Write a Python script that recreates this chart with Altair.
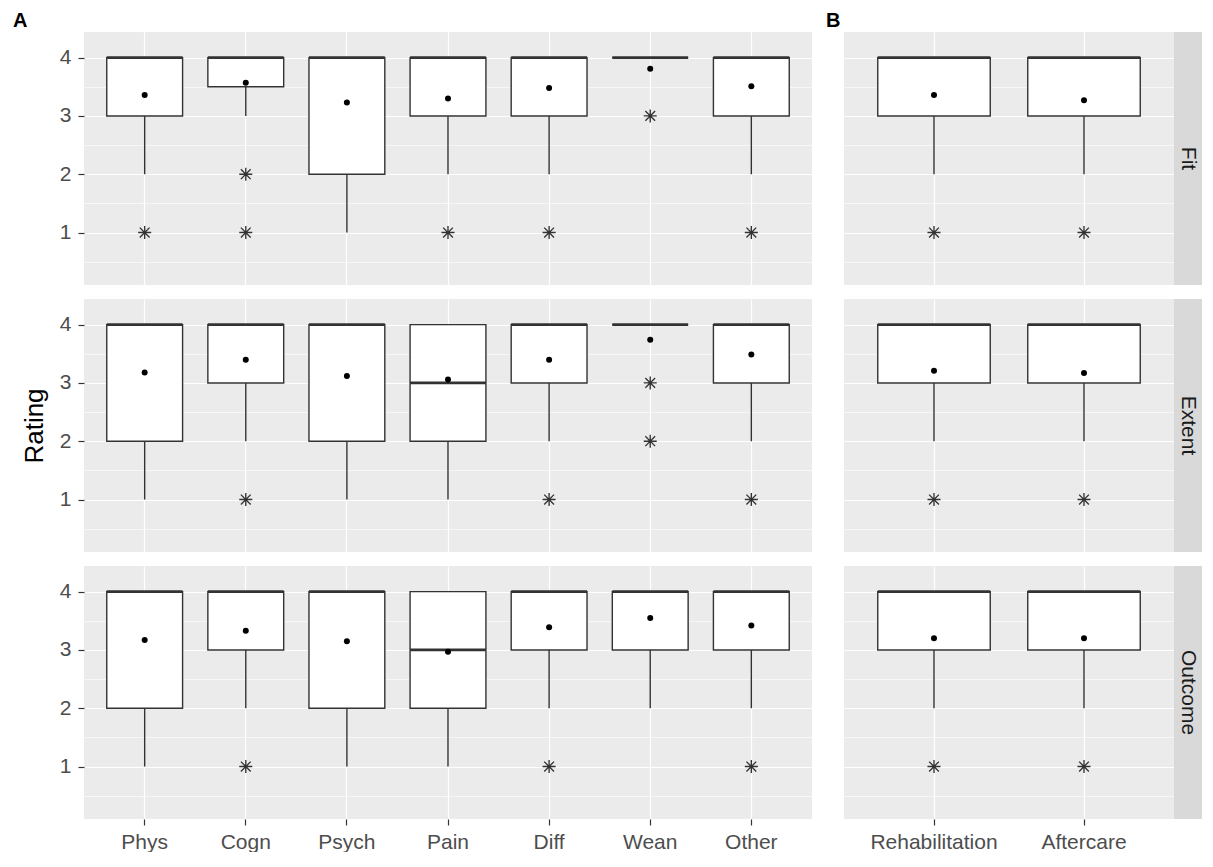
import altair as alt
import pandas as pd

FONT = "Liberation Sans"

facets = ["Fit", "Extent", "Outcome"]
cats_a = ["Phys", "Cogn", "Psych", "Pain", "Diff", "Wean", "Other"]
cats_b = ["Rehabilitation", "Aftercare"]
panel_letters = {"A": "A", "B": "B"}

# Panel A statistics (order of cats_a)
a_q1 = {"Fit": [3, 3.5, 2, 3, 3, 4, 3],
        "Extent": [2, 3, 2, 2, 3, 4, 3],
        "Outcome": [2, 3, 2, 2, 3, 3, 3]}
a_med = {"Fit": [4, 4, 4, 4, 4, 4, 4],
         "Extent": [4, 4, 4, 3, 4, 4, 4],
         "Outcome": [4, 4, 4, 3, 4, 4, 4]}
a_q3 = {"Fit": [4, 4, 4, 4, 4, 4, 4],
        "Extent": [4, 4, 4, 4, 4, 4, 4],
        "Outcome": [4, 4, 4, 4, 4, 4, 4]}
a_lo = {"Fit": [2, 3, 1, 2, 2, 4, 2],
        "Extent": [1, 2, 1, 1, 2, 4, 2],
        "Outcome": [1, 2, 1, 1, 2, 2, 2]}
a_mean = {"Fit": [3.36, 3.57, 3.23, 3.30, 3.48, 3.81, 3.51],
          "Extent": [3.18, 3.40, 3.12, 3.06, 3.40, 3.74, 3.49],
          "Outcome": [3.17, 3.33, 3.15, 2.97, 3.39, 3.55, 3.42]}
a_out = {"Fit": [[1], [2, 1], [], [1], [1], [3], [1]],
         "Extent": [[], [1], [], [], [1], [3, 2], [1]],
         "Outcome": [[], [1], [], [], [1], [], [1]]}

# Panel B statistics (order of cats_b)
b_q1 = {"Fit": [3, 3], "Extent": [3, 3], "Outcome": [3, 3]}
b_med = {"Fit": [4, 4], "Extent": [4, 4], "Outcome": [4, 4]}
b_q3 = {"Fit": [4, 4], "Extent": [4, 4], "Outcome": [4, 4]}
b_lo = {"Fit": [2, 2], "Extent": [2, 2], "Outcome": [2, 2]}
b_mean = {"Fit": [3.36, 3.27], "Extent": [3.21, 3.17], "Outcome": [3.20, 3.20]}
b_out = {"Fit": [[1], [1]], "Extent": [[1], [1]], "Outcome": [[1], [1]]}

y_ticks = [0.5, 1, 1.5, 2, 2.5, 3, 3.5, 4]

W_A, W_B, H, STRIP = 728, 330, 253, 28
STAR = "M-1,0L1,0M0,-1L0,1M-0.75,-0.75L0.75,0.75M-0.75,0.75L0.75,-0.75"
MINOR = "datum.value % 1 !== 0"
INK = "#333333"

yscale = alt.Scale(domain=[0.1, 4.44], nice=False, zero=False)


def cell(panel, facet, row):
    if panel == "A":
        cats, q1, med, q3, lo, mn, out, width = cats_a, a_q1, a_med, a_q3, a_lo, a_mean, a_out, W_A
    else:
        cats, q1, med, q3, lo, mn, out, width = cats_b, b_q1, b_med, b_q3, b_lo, b_mean, b_out, W_B
    step = width / (len(cats) + 0.2)
    boxw = 0.75 * step
    df = pd.DataFrame({"cat": cats, "q1": q1[facet], "med": med[facet], "q3": q3[facet],
                       "lo": lo[facet], "mean": mn[facet]})
    orows = [{"cat": c, "val": v} for c, vs in zip(cats, out[facet]) for v in vs]
    odf = pd.DataFrame(orows if orows else {"cat": [], "val": []})

    bottom = row == 2
    xaxis = alt.Axis(title=None, labels=bottom, ticks=bottom, domain=False, grid=True,
                     gridColor="white", gridWidth=1.2, bandPosition=0.5, labelAngle=0,
                     labelFont=FONT, labelFontSize=21, labelColor="#4D4D4D",
                     tickColor=INK, tickSize=6, tickWidth=1.2, labelPadding=6)
    xenc = alt.X("cat:N", sort=cats,
                 scale=alt.Scale(domain=cats, paddingInner=0, paddingOuter=0.1),
                 axis=xaxis)
    if panel == "A":
        yaxis = alt.Axis(title="Rating", titleOpacity=1 if row == 1 else 0,
                         titleFont=FONT, titleFontSize=26, titleFontWeight="normal",
                         titleColor="black", titlePadding=12,
                         values=y_ticks,
                         labelExpr="datum.value % 1 === 0 ? '' + datum.value : ''",
                         labelFont=FONT, labelFontSize=21, labelColor="#4D4D4D",
                         labelPadding=7, tickSize=6, tickColor=INK, tickWidth=1.2,
                         tickOpacity={"condition": {"test": MINOR, "value": 0}, "value": 1},
                         domain=False, grid=True, gridColor="white",
                         gridWidth={"condition": {"test": MINOR, "value": 0.6}, "value": 1.2})
    else:
        yaxis = alt.Axis(title=None, values=y_ticks, labels=False, ticks=False, domain=False,
                         grid=True, gridColor="white",
                         gridWidth={"condition": {"test": MINOR, "value": 0.6}, "value": 1.2})

    def Y(f):
        return alt.Y(f, scale=yscale, axis=yaxis)

    base = alt.Chart(df)
    whisker = base.mark_rule(color=INK, strokeWidth=1.4).encode(
        x=xenc, y=Y("lo:Q"), y2="q1:Q")
    box = base.mark_bar(fill="white", stroke=INK, strokeWidth=1.4, width=boxw).encode(
        x=xenc, y=Y("q1:Q"), y2="q3:Q")
    median = base.mark_tick(color=INK, thickness=2.8, size=boxw, opacity=1).encode(
        x=xenc, y=Y("med:Q"))
    mean = base.mark_point(filled=True, color="black", size=36, opacity=1).encode(
        x=xenc, y=Y("mean:Q"))
    outl = alt.Chart(odf).mark_point(shape=STAR, filled=False, color=INK,
                                     strokeWidth=1.35, size=170, opacity=1).encode(
        x=xenc, y=Y("val:Q"))
    layers = [whisker, box, median, mean, outl]

    if panel == "B":
        sdata = alt.Data(values=[{"lab": facet}])
        strip = alt.Chart(sdata).mark_rect(color="#D9D9D9").encode(
            x=alt.value(width), x2=alt.value(width + STRIP),
            y=alt.value(0), y2=alt.value(H))
        stext = alt.Chart(sdata).mark_text(angle=90, font=FONT, fontSize=21, color="#1A1A1A",
                                           align="center", baseline="middle").encode(
            x=alt.value(width + STRIP / 2), y=alt.value(H / 2), text="lab:N")
        layers += [strip, stext]

    if row == 0:
        ldata = alt.Data(values=[{"lab": panel_letters[panel]}])
        letter = alt.Chart(ldata).mark_text(font=FONT, fontSize=20, fontWeight="bold",
                                            color="black", align="left",
                                            baseline="alphabetic").encode(
            x=alt.value(-71 if panel == "A" else -18), y=alt.value(-5), text="lab:N")
        layers.append(letter)

    return alt.layer(*layers).properties(width=width, height=H)


cells = []
for r, f in enumerate(facets):
    cells.append(cell("A", f, r))
    cells.append(cell("B", f, r))

chart = alt.concat(*cells, columns=2, spacing={"row": 14, "column": 14}).properties(
    align="each",
    padding={"left": 5, "top": 3, "right": 0, "bottom": 0},
).configure(font=FONT).configure_view(fill="#EBEBEB", strokeWidth=0)

chart.save("out.html", embed_options={"renderer": "svg", "actions": False})
